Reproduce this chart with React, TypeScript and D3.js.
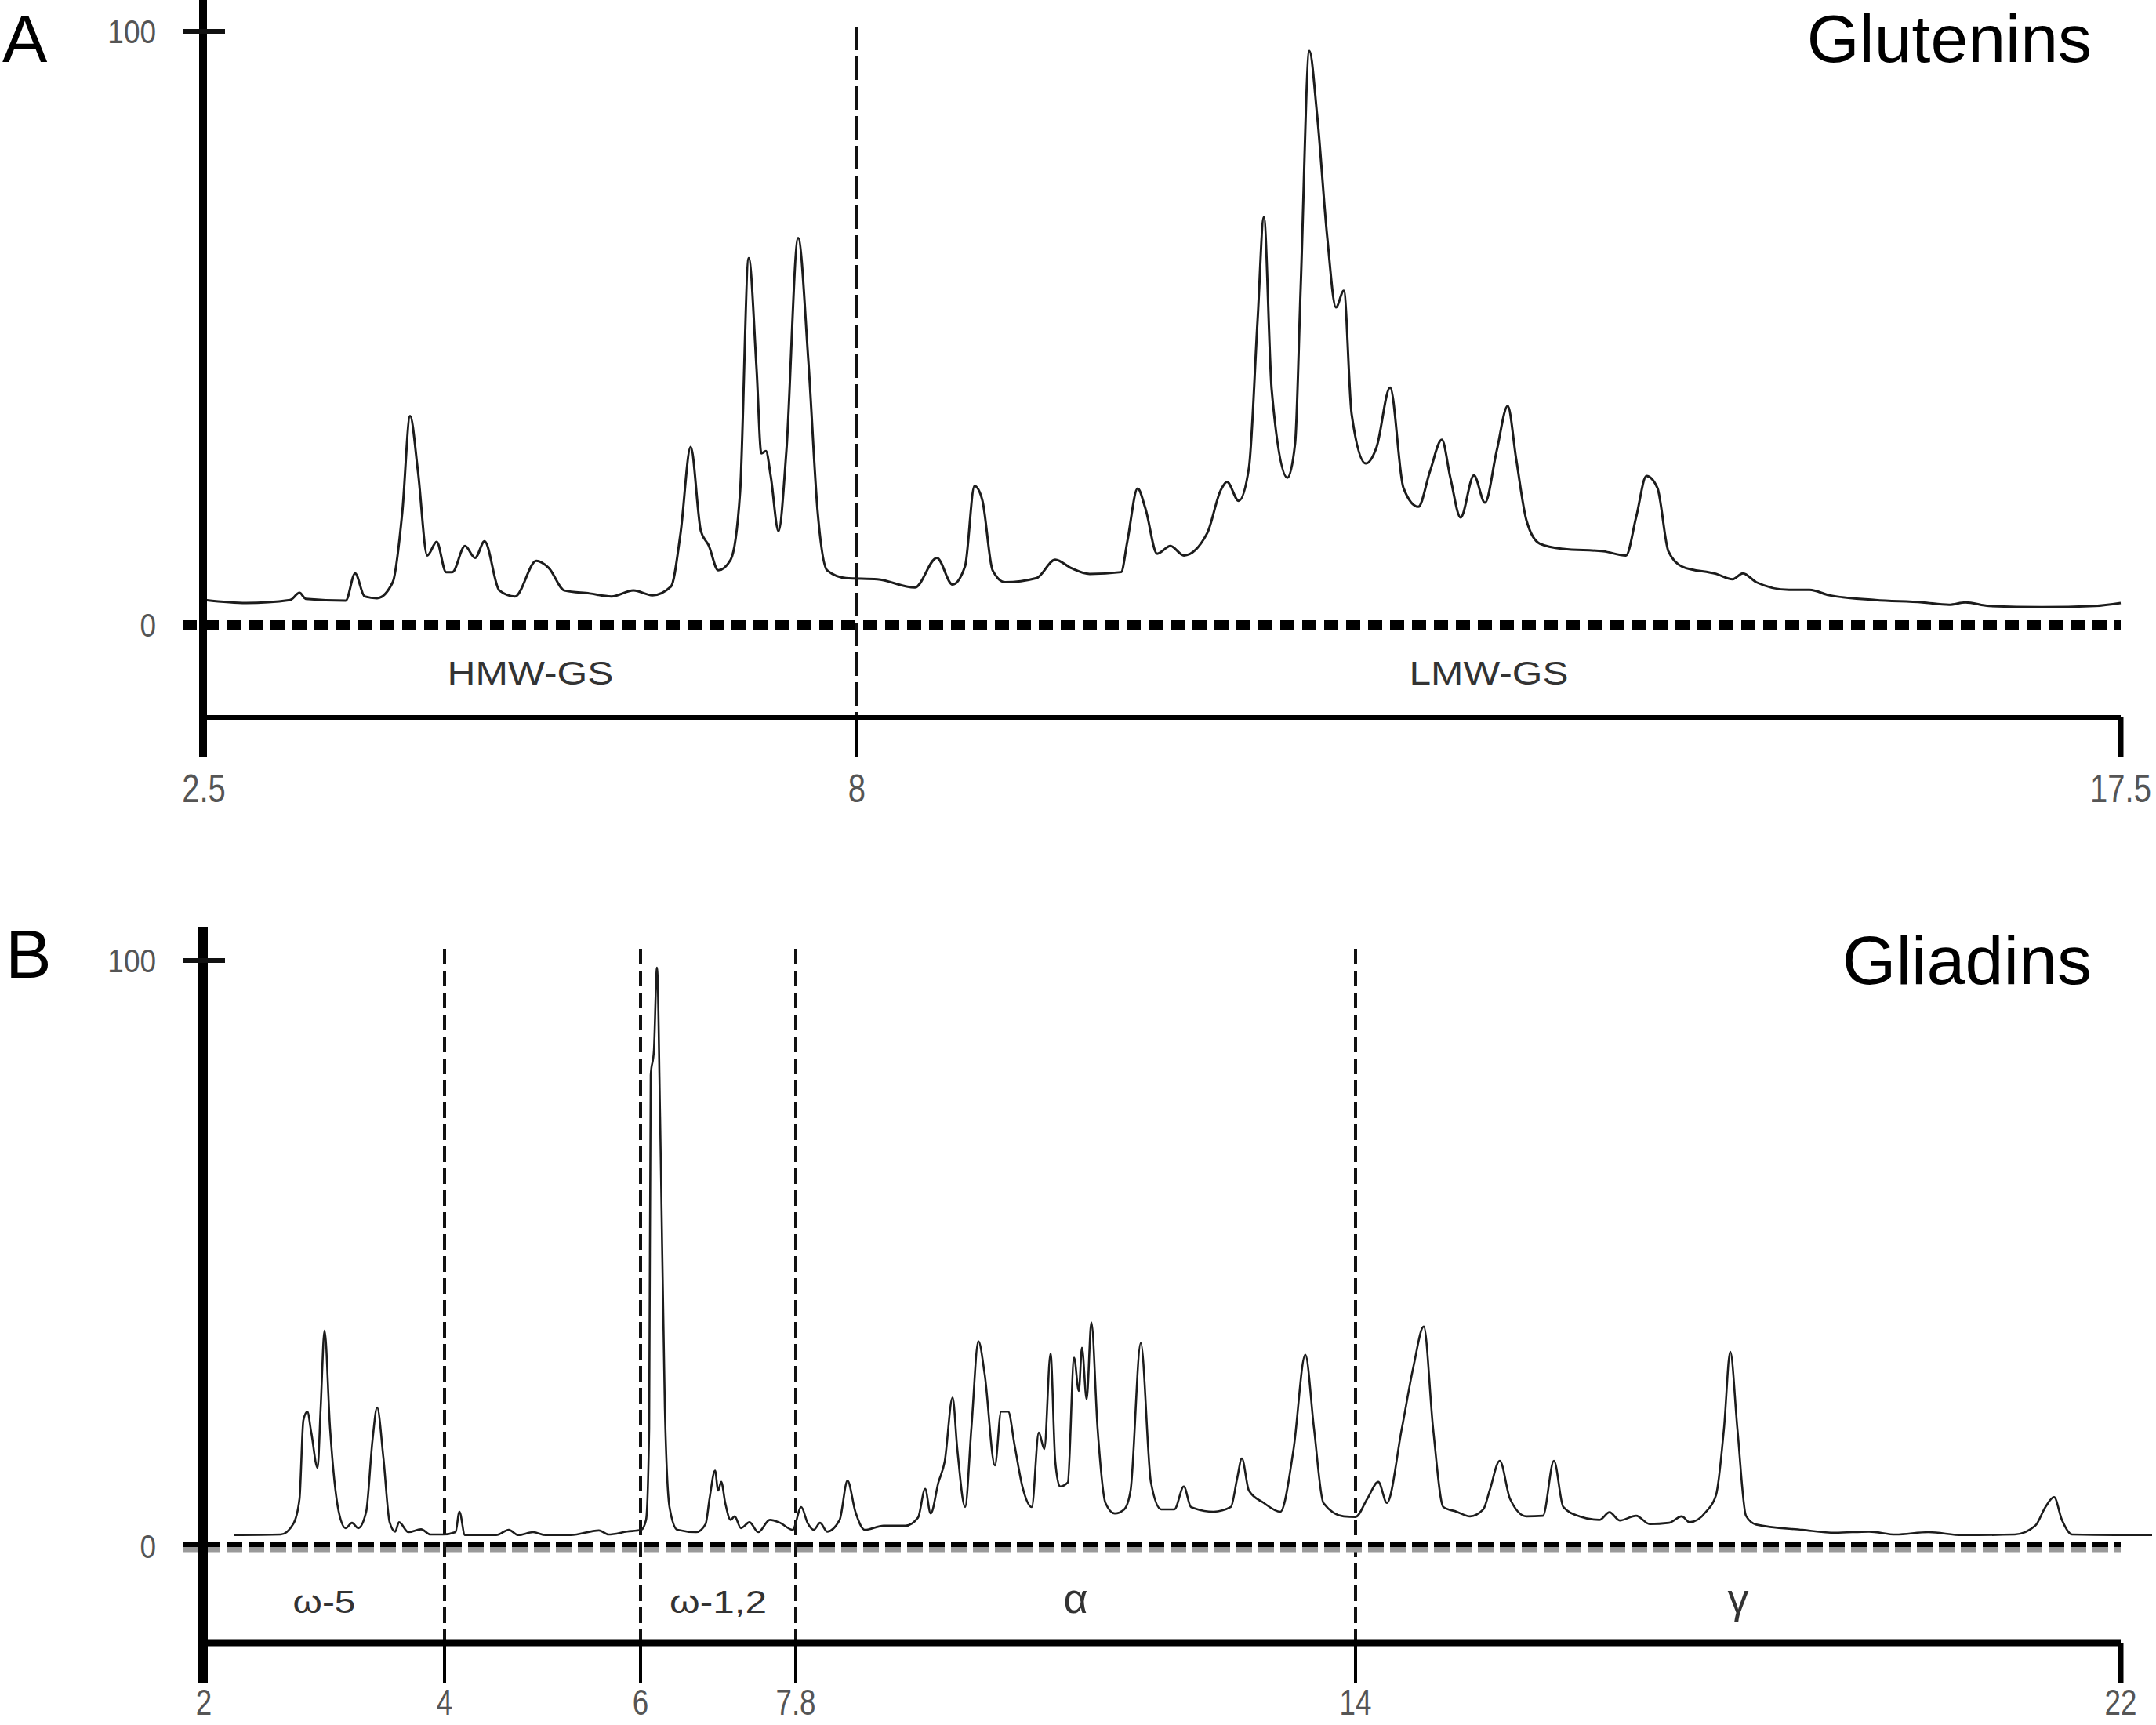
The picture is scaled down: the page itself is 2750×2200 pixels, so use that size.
import React from "react";
import * as d3 from "d3";

// ---------- DATA ----------
// Panel A – Glutenins: [retention time (min), relative signal (%)]
const gluteninTrace: [number, number][] = [
  [2.513, 4.2], [2.857, 3.7], [3.226, 4.2], [3.306, 5.4], [3.358, 4.4], [3.695, 4.1],
  [3.774, 8.7], [3.854, 4.8], [3.959, 4.5], [4.091, 7.2], [4.171, 18.9], [4.237, 35.2],
  [4.303, 25.9], [4.382, 11.7], [4.461, 14.0], [4.54, 8.9], [4.593, 8.9], [4.699, 13.3],
  [4.785, 11.3], [4.864, 14.1], [4.989, 5.8], [5.121, 4.8], [5.3, 10.8], [5.405, 9.6],
  [5.537, 5.8], [5.749, 5.3], [5.933, 4.8], [6.118, 5.8], [6.277, 5.0], [6.435, 6.5],
  [6.515, 15.5], [6.6, 30.0], [6.686, 15.8], [6.752, 13.4], [6.832, 9.2], [6.937, 11.0],
  [7.016, 22.3], [7.089, 61.8], [7.155, 43.1], [7.195, 28.9], [7.234, 29.3], [7.274, 25.1],
  [7.34, 15.8], [7.406, 29.3], [7.505, 65.2], [7.591, 44.5], [7.67, 18.9], [7.749, 9.2],
  [7.908, 7.9], [8.153, 7.7], [8.436, 6.3], [8.601, 11.3], [8.719, 6.8], [8.813, 9.9],
  [8.884, 23.4], [8.943, 21.0], [9.02, 9.2], [9.114, 7.2], [9.35, 7.9], [9.491, 11.0],
  [9.609, 9.6], [9.75, 8.6], [9.986, 8.9], [10.033, 14.1], [10.11, 23.0], [10.169, 19.6],
  [10.257, 12.0], [10.357, 13.3], [10.458, 11.7], [10.634, 15.5], [10.735, 22.7], [10.782, 24.1],
  [10.87, 20.9], [10.947, 26.5], [11.012, 51.4], [11.059, 68.7], [11.118, 39.6], [11.236, 24.8],
  [11.294, 30.6], [11.336, 56.9], [11.401, 96.7], [11.459, 86.0], [11.536, 65.2], [11.601, 53.5],
  [11.66, 56.3], [11.719, 35.5], [11.825, 27.2], [11.907, 30.0], [12.008, 40.0], [12.108, 23.1],
  [12.22, 19.9], [12.308, 25.9], [12.397, 31.2], [12.461, 24.8], [12.538, 18.1], [12.638, 25.2],
  [12.721, 20.6], [12.809, 29.3], [12.892, 36.9], [12.956, 27.9], [13.033, 17.6], [13.133, 13.7],
  [13.31, 12.8], [13.611, 12.4], [13.781, 11.7], [13.858, 18.2], [13.935, 25.1], [14.017, 23.1],
  [14.1, 12.4], [14.206, 9.8], [14.459, 8.6], [14.583, 7.7], [14.66, 8.7], [14.76, 7.2],
  [15.007, 5.9], [15.161, 5.9], [15.308, 5.0], [15.656, 4.2], [16.009, 3.8], [16.21, 3.4],
  [16.333, 3.8], [16.51, 3.2], [16.905, 3.0], [17.306, 3.2], [17.5, 3.7],
];

// Panel B – Gliadins: [retention time (min), relative signal (%)]
const gliadinTrace: [number, number][] = [
  [2.248, 1.9], [2.638, 2.0], [2.743, 3.8], [2.795, 8.1], [2.827, 21.5], [2.86, 23.0],
  [2.893, 19.4], [2.945, 13.4], [2.971, 23.7], [3.003, 36.8], [3.049, 20.1], [3.121, 5.9],
  [3.179, 3.1], [3.231, 4.0], [3.283, 3.1], [3.349, 5.9], [3.401, 18.0], [3.44, 23.7],
  [3.492, 15.1], [3.544, 4.1], [3.59, 2.5], [3.622, 4.1], [3.7, 2.4], [3.805, 2.9],
  [3.883, 2.0], [3.987, 2.0], [4.112, 2.4], [4.152, 5.9], [4.208, 1.9], [4.528, 1.9],
  [4.656, 2.8], [4.752, 1.9], [4.904, 2.4], [5.032, 1.9], [5.288, 1.9], [5.576, 2.7],
  [5.672, 2.0], [5.864, 2.5], [6.009, 2.8], [6.064, 4.5], [6.1, 20.1], [6.118, 80.4],
  [6.155, 84.6], [6.191, 98.8], [6.227, 73.3], [6.282, 23.7], [6.336, 6.7], [6.427, 2.8],
  [6.645, 2.4], [6.755, 3.8], [6.8, 8.1], [6.864, 12.9], [6.9, 9.5], [6.936, 11.0],
  [6.982, 7.4], [7.045, 4.5], [7.091, 5.1], [7.164, 3.1], [7.264, 4.1], [7.364, 2.4],
  [7.5, 4.5], [7.618, 4.0], [7.764, 2.8], [7.861, 6.7], [7.93, 4.0], [8.0, 2.8],
  [8.069, 4.0], [8.147, 2.5], [8.286, 4.5], [8.373, 11.2], [8.46, 5.9], [8.564, 2.8],
  [8.773, 3.5], [9.016, 3.5], [9.155, 4.9], [9.233, 9.8], [9.294, 5.6], [9.38, 10.9],
  [9.45, 14.5], [9.537, 25.4], [9.589, 16.6], [9.676, 6.7], [9.745, 20.1], [9.823, 35.0],
  [9.893, 29.3], [10.006, 13.8], [10.075, 23.0], [10.153, 23.0], [10.223, 17.3], [10.31, 10.2],
  [10.414, 6.7], [10.492, 19.4], [10.553, 16.6], [10.622, 32.9], [10.674, 14.5], [10.726, 10.2],
  [10.813, 10.9], [10.883, 32.2], [10.935, 26.5], [10.97, 33.9], [11.022, 25.1], [11.074, 38.2],
  [11.143, 20.1], [11.23, 7.4], [11.334, 5.6], [11.438, 6.3], [11.508, 9.5], [11.621, 34.7],
  [11.734, 10.9], [11.847, 6.3], [11.994, 6.3], [12.098, 10.2], [12.177, 6.7], [12.428, 5.9],
  [12.619, 6.7], [12.689, 11.6], [12.741, 15.0], [12.819, 9.5], [12.984, 7.4], [13.167, 5.9],
  [13.314, 16.6], [13.444, 32.7], [13.54, 20.1], [13.644, 7.4], [13.87, 5.1], [14.0, 5.0],
  [14.123, 8.1], [14.238, 11.0], [14.328, 7.4], [14.484, 20.1], [14.607, 30.8], [14.713, 37.5],
  [14.811, 20.1], [14.918, 6.7], [15.057, 5.9], [15.197, 5.1], [15.336, 6.3], [15.402, 9.5],
  [15.508, 14.6], [15.615, 8.1], [15.787, 5.1], [15.959, 5.2], [16.074, 14.6], [16.172, 6.7],
  [16.344, 5.1], [16.549, 4.5], [16.656, 5.8], [16.762, 4.4], [16.934, 5.2], [17.074, 3.8],
  [17.279, 4.0], [17.41, 5.1], [17.492, 4.1], [17.664, 5.9], [17.77, 8.8], [17.852, 20.1],
  [17.918, 33.2], [17.992, 20.1], [18.082, 5.2], [18.189, 3.7], [18.672, 2.8], [19.016, 2.3],
  [19.369, 2.5], [19.648, 2.0], [19.992, 2.4], [20.344, 1.9], [20.893, 2.0], [21.107, 3.5],
  [21.213, 6.7], [21.303, 8.4], [21.385, 4.5], [21.492, 2.0], [21.943, 1.9], [22.328, 1.9],
];

const gluteninTicks = [2.5, 8, 17.5];
const gliadinTicks = [2, 4, 6, 7.8, 14, 22];
const yTicks = [0, 100];

const gluteninDividers = [8];
const gliadinDividers = [4, 6, 7.8, 14];

const gluteninRegions = [
  { label: "HMW-GS", from: 2.5, to: 8 },
  { label: "LMW-GS", from: 8, to: 17.5 },
];
const gliadinRegions = [
  { label: "ω-5", from: 2, to: 4 },
  { label: "ω-1,2", from: 6, to: 7.8 },
  { label: "α", from: 7.8, to: 14 },
  { label: "γ", from: 14, to: 22 },
];

// ---------- LAYOUT / STYLE ----------
const FONT = "'Liberation Sans', Arial, Helvetica, sans-serif";
const LABEL_WIDTH: Record<string, number> = {
  "HMW-GS": 212,
  "LMW-GS": 203,
  "ω-5": 80,
  "ω-1,2": 124,
};
const LABEL_FONT: Record<string, number> = {
  "α": 54,
  "γ": 54,
};

type PanelCfg = {
  letter: string;
  title: string;
  trace: [number, number][];
  ticks: number[];
  tickPx: number[];
  dividers: number[];
  regions: { label: string; from: number; to: number }[];
  yZero: number;
  yHundred: number;
  axisTop: number;
  axisBottomY: number;
  axisBottomW: number;
  tickEnd: number;
  dividerTop: number;
  letterY: number;
  letterX: number;
  titleY: number;
  headFont: number;
  tickLabelY: number;
  tickFont: number;
  regionLabelY: number;
  regionFont: number;
  yAxisW: number;
  zeroStyle: "A" | "B";
  traceW: number;
};

const AXIS_X = 259;

function Panel({ c }: { c: PanelCfg }) {
  const x = d3.scaleLinear().domain(c.ticks).range(c.tickPx);
  const y = d3.scaleLinear().domain([0, 100]).range([c.yZero, c.yHundred]);
  const line = d3
    .line<[number, number]>()
    .x((d) => x(d[0]))
    .y((d) => y(d[1]))
    .curve(d3.curveMonotoneX);
  const xEnd = x(c.ticks[c.ticks.length - 1]);
  const first = c.ticks[0];

  return (
    <g>
      {/* panel letter & title */}
      <text x={c.letterX} y={c.letterY} fontFamily={FONT} fontSize={c.headFont} fill="#000">
        {c.letter}
      </text>
      <text x={2668} y={c.titleY} fontFamily={FONT} fontSize={c.headFont} textAnchor="end" fill="#000">
        {c.title}
      </text>

      {/* dashed region dividers */}
      {c.dividers.map((d) => (
        <line
          key={"div" + d}
          x1={x(d)}
          x2={x(d)}
          y1={c.dividerTop}
          y2={c.axisBottomY}
          stroke="#111"
          strokeWidth={4}
          strokeDasharray={c.zeroStyle === "A" ? "30 8" : "20 8"}
        />
      ))}

      {/* zero baseline (dashed) */}
      {c.zeroStyle === "A" ? (
        <line x1={233} x2={xEnd} y1={y(0)} y2={y(0)} stroke="#000" strokeWidth={12} strokeDasharray="18 10" />
      ) : (
        <g>
          <line x1={233} x2={xEnd} y1={y(0) + 4} y2={y(0) + 4} stroke="#9a9a9a" strokeWidth={7} strokeDasharray="20 8" />
          <line x1={233} x2={xEnd} y1={y(0) - 2} y2={y(0) - 2} stroke="#000" strokeWidth={6} strokeDasharray="20 8" />
        </g>
      )}

      {/* chromatogram trace */}
      <path d={line(c.trace) || ""} fill="none" stroke="#1c1c1c" strokeWidth={c.traceW} strokeLinejoin="round" />

      {/* y axis */}
      <line x1={AXIS_X} x2={AXIS_X} y1={c.axisTop} y2={c.tickEnd} stroke="#000" strokeWidth={c.yAxisW} />
      <line x1={233} x2={287} y1={y(100)} y2={y(100)} stroke="#111" strokeWidth={6} />
      {yTicks.map((t) => (
        <g key={"yt" + t} transform={`translate(199,${y(t) + 15}) scale(0.88,1)`}>
          <text x={0} y={0} fontFamily={FONT} fontSize={42} textAnchor="end" fill="#555">
            {t}
          </text>
        </g>
      ))}

      {/* bottom axis */}
      <line x1={AXIS_X} x2={xEnd} y1={c.axisBottomY} y2={c.axisBottomY} stroke="#000" strokeWidth={c.axisBottomW} />
      {c.ticks
        .filter((t) => t !== first)
        .map((t, i, arr) => (
          <line
            key={"xt" + t}
            x1={x(t)}
            x2={x(t)}
            y1={c.axisBottomY}
            y2={c.tickEnd}
            stroke="#000"
            strokeWidth={i === arr.length - 1 ? 7 : 4}
          />
        ))}
      {c.ticks.map((t) => (
        <g key={"xl" + t} transform={`translate(${x(t)},${c.tickLabelY}) scale(0.8,1)`}>
          <text x={0} y={0} fontFamily={FONT} fontSize={c.tickFont} textAnchor="middle" fill="#555">
            {t}
          </text>
        </g>
      ))}

      {/* region labels */}
      {c.regions.map((r) => {
        const cx = (x(r.from) + x(r.to)) / 2;
        const w = LABEL_WIDTH[r.label];
        const fs = LABEL_FONT[r.label] || c.regionFont;
        return (
          <text
            key={r.label}
            x={w ? cx - w / 2 : cx}
            y={c.regionLabelY}
            fontFamily={FONT}
            fontSize={fs}
            textAnchor={w ? "start" : "middle"}
            fill="#333"
            {...(w ? { textLength: w, lengthAdjust: "spacingAndGlyphs" } : {})}
          >
            {r.label}
          </text>
        );
      })}
    </g>
  );
}

export default function App() {
  const panelA: PanelCfg = {
    letter: "A",
    title: "Glutenins",
    trace: gluteninTrace,
    ticks: gluteninTicks,
    tickPx: [260, 1093, 2705],
    dividers: gluteninDividers,
    regions: gluteninRegions,
    yZero: 797,
    yHundred: 40,
    axisTop: 0,
    axisBottomY: 915,
    axisBottomW: 6,
    tickEnd: 965,
    dividerTop: 34,
    letterY: 79,
    letterX: 3,
    titleY: 79,
    headFont: 86,
    tickLabelY: 1023,
    tickFont: 50,
    regionLabelY: 873,
    regionFont: 43,
    yAxisW: 10,
    zeroStyle: "A",
    traceW: 3,
  };
  const panelB: PanelCfg = {
    letter: "B",
    title: "Gliadins",
    trace: gliadinTrace,
    ticks: gliadinTicks,
    tickPx: [260, 567, 817, 1015, 1729, 2705],
    dividers: gliadinDividers,
    regions: gliadinRegions,
    yZero: 1972,
    yHundred: 1225,
    axisTop: 1182,
    axisBottomY: 2095,
    axisBottomW: 9,
    tickEnd: 2147,
    dividerTop: 1210,
    letterY: 1247,
    letterX: 7,
    titleY: 1255,
    headFont: 88,
    tickLabelY: 2187,
    tickFont: 46,
    regionLabelY: 2057,
    regionFont: 40,
    yAxisW: 12,
    zeroStyle: "B",
    traceW: 2.6,
  };
  return (
    <svg
      width={2750}
      height={2200}
      viewBox="0 0 2750 2200"
      style={{ position: "absolute", left: 0, top: 0, background: "#fff" }}
    >
      <rect x={0} y={0} width={2750} height={2200} fill="#fff" />
      <Panel c={panelA} />
      <Panel c={panelB} />
    </svg>
  );
}
